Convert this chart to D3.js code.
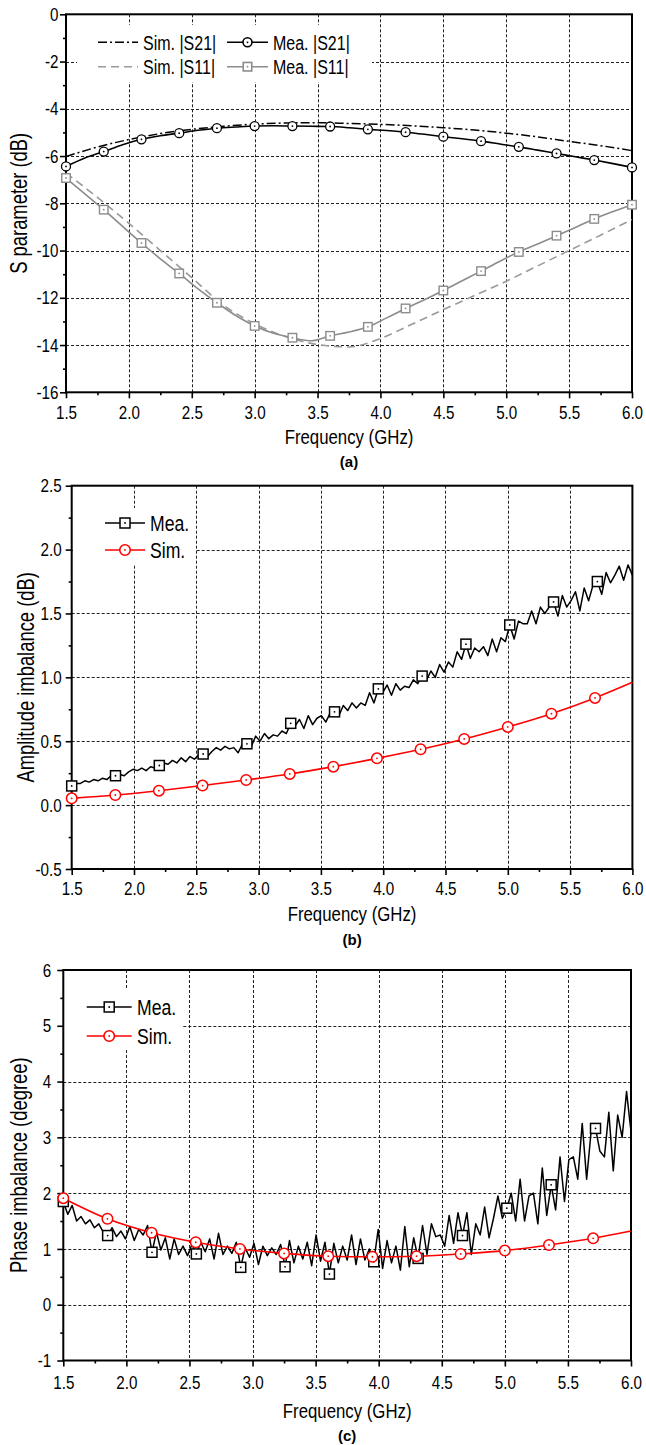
<!DOCTYPE html>
<html><head><meta charset="utf-8">
<script src="https://cdn.jsdelivr.net/npm/d3@7"></script>
<style>
html,body{margin:0;padding:0;background:#fff;}
svg{display:block;}
text{font-family:"Liberation Sans",Arial,sans-serif;fill:#000;}
</style></head><body>
<svg id="c" width="646" height="1445"></svg>
<script>
// ---------- shared axis ticks ----------
const xMajor = [1.5,2.0,2.5,3.0,3.5,4.0,4.5,5.0,5.5,6.0];
const xMinor = [1.75,2.25,2.75,3.25,3.75,4.25,4.75,5.25,5.75];
const yMajorA = [-16,-14,-12,-10,-8,-6,-4,-2,0];
const yMinorA = [-15,-13,-11,-9,-7,-5,-3,-1];
const yMajorB = [-0.5,0.0,0.5,1.0,1.5,2.0,2.5];
const yMinorB = [-0.25,0.25,0.75,1.25,1.75,2.25];
const yMajorC = [-1,0,1,2,3,4,5,6];
const yMinorC = [-0.5,0.5,1.5,2.5,3.5,4.5,5.5];

// ---------- panel (a): S parameters ----------
const freqMeaA = [1.5,1.65,1.8,1.95,2.1,2.25,2.4,2.55,2.7,2.85,3.0,3.15,3.3,3.45,3.6,3.75,3.9,4.05,4.2,4.35,4.5,4.65,4.8,4.95,5.1,5.25,5.4,5.55,5.7,5.85,6.0];
const meaS21 = [-6.44,-6.08,-5.81,-5.52,-5.29,-5.14,-5.03,-4.91,-4.82,-4.77,-4.73,-4.72,-4.73,-4.74,-4.75,-4.80,-4.87,-4.92,-4.99,-5.08,-5.18,-5.27,-5.37,-5.49,-5.61,-5.75,-5.89,-6.03,-6.17,-6.32,-6.48];
const meaS11 = [-6.93,-7.60,-8.27,-8.98,-9.68,-10.35,-10.97,-11.62,-12.21,-12.75,-13.19,-13.50,-13.69,-13.82,-13.61,-13.45,-13.23,-12.85,-12.45,-12.08,-11.69,-11.28,-10.87,-10.45,-10.06,-9.72,-9.37,-9.02,-8.66,-8.35,-8.06];
const freqSimA = [1.5,1.75,2.0,2.25,2.5,2.75,3.0,3.25,3.5,3.75,4.0,4.25,4.5,4.75,5.0,5.25,5.5,5.75,6.0];
const simS21 = [-6.02,-5.62,-5.30,-5.05,-4.87,-4.74,-4.65,-4.60,-4.59,-4.62,-4.66,-4.72,-4.80,-4.90,-5.03,-5.19,-5.38,-5.56,-5.77];
const simS11 = [-6.72,-7.75,-8.85,-10.0,-11.15,-12.3,-13.1,-13.65,-13.98,-14.08,-13.72,-13.12,-12.5,-11.9,-11.3,-10.65,-10.0,-9.35,-8.69];

// ---------- panel (b)/(c): shared measured frequency grid (129 points) ----------
const freqMeaBC = d3.range(129).map(i => 1.5 + i * 4.5 / 128);
const meaAmp = [
 0.15,0.17,0.17,0.19,0.18,0.20,0.19,0.21,0.20,0.23,
 0.23,0.24,0.23,0.26,0.28,0.27,0.29,0.27,0.30,0.29,
 0.31,0.33,0.32,0.35,0.33,0.37,0.34,0.38,0.36,0.39,
 0.40,0.38,0.42,0.45,0.43,0.46,0.44,0.45,0.41,0.48,
 0.48,0.46,0.54,0.50,0.56,0.52,0.55,0.54,0.58,0.56,
 0.64,0.62,0.67,0.60,0.70,0.63,0.68,0.70,0.65,0.72,
 0.73,0.70,0.78,0.74,0.80,0.76,0.80,0.78,0.88,0.80,
 0.91,0.88,0.94,0.86,0.95,0.90,0.93,0.92,0.98,0.95,
 1.01,0.98,1.05,1.00,1.10,1.04,1.12,1.08,1.20,1.14,
 1.26,1.15,1.23,1.20,1.24,1.17,1.30,1.20,1.31,1.28,
 1.41,1.30,1.44,1.42,1.42,1.52,1.42,1.55,1.50,1.55,
 1.59,1.48,1.64,1.55,1.60,1.67,1.52,1.70,1.60,1.72,
 1.75,1.65,1.82,1.74,1.80,1.87,1.76,1.88,1.80];
const meaPhase = [
 1.85,1.62,1.78,1.50,1.58,1.45,1.52,1.38,1.45,1.30,
 1.24,1.38,1.22,1.32,1.18,1.40,1.15,1.35,1.25,1.42,
 0.94,1.30,0.98,1.20,0.82,1.18,0.90,1.05,0.88,1.08,
 0.91,1.12,0.95,1.18,0.82,1.28,0.90,1.05,0.92,1.12,
 0.67,1.02,0.85,1.10,0.72,1.05,0.88,1.02,0.90,1.08,
 0.68,1.15,0.75,1.05,0.82,1.12,0.70,1.25,0.78,1.12,
 0.55,1.10,0.75,1.05,0.80,1.25,0.72,1.18,0.80,1.00,
 0.77,1.35,0.65,1.15,0.75,1.05,0.62,1.40,0.68,1.20,
 0.83,1.42,0.90,1.45,1.22,1.25,1.05,1.60,1.10,1.65,
 1.24,1.65,0.90,1.45,1.25,1.75,1.20,1.55,1.95,1.55,
 1.73,2.00,1.50,2.25,1.50,1.95,2.00,1.45,2.45,1.60,
 2.15,1.70,2.65,1.85,2.60,2.65,2.25,3.25,2.25,3.10,
 3.16,2.75,2.65,3.45,2.40,3.40,3.00,3.82,3.10];
const freqSimBC = [1.5,1.85,2.2,2.55,2.9,3.25,3.6,3.95,4.3,4.65,5.0,5.35,5.7,6.0];
const simAmp = [0.053,0.079,0.113,0.153,0.197,0.244,0.301,0.366,0.437,0.518,0.612,0.716,0.839,0.961];
const simPhase = [1.91,1.54,1.29,1.12,1.00,0.92,0.87,0.86,0.87,0.91,0.97,1.07,1.19,1.32];

// ---------- drawing ----------
const svg = d3.select("#c");
const GRAY = "#8c8c8c";
const RED = "#ff0000";
const NX = 0.8; // horizontal condensing (narrow face look)

function ntext(g, x, y, str, fs, anchor, rot) {
  return g.append("text")
    .attr("transform", `translate(${x},${y})` + (rot ? ` rotate(${rot})` : "") + ` scale(${NX},1)`)
    .attr("text-anchor", anchor || "start").style("font-size", fs + "px").text(str);
}

function panel(o) {
  const g = svg.append("g");
  const x = d3.scaleLinear().domain([1.5, 6.0]).range([o.x0, o.x1]);
  const y = d3.scaleLinear().domain([o.yMajor[0], o.yMajor[o.yMajor.length-1]]).range([o.y0, o.y1]);
  // grid
  g.append("g").selectAll("line").data(xMajor.slice(1,-1)).join("line")
    .attr("x1", d=>Math.round(x(d))+0.5).attr("x2", d=>Math.round(x(d))+0.5).attr("y1", o.y1).attr("y2", o.y0)
    .attr("stroke","#222").attr("stroke-width",1).attr("stroke-dasharray","3,2");
  g.append("g").selectAll("line").data(o.yMajor.slice(1,-1)).join("line")
    .attr("y1", d=>Math.round(y(d))+0.5).attr("y2", d=>Math.round(y(d))+0.5).attr("x1", o.x0).attr("x2", o.x1)
    .attr("stroke","#222").attr("stroke-width",1).attr("stroke-dasharray","3,2");
  // legend background
  g.append("rect").attr("x",o.leg.x).attr("y",o.leg.y).attr("width",o.leg.w).attr("height",o.leg.h).attr("fill","#fff");
  // axes
  const xa = g.append("g").attr("transform",`translate(0,${o.y0})`)
    .call(d3.axisBottom(x).tickValues(xMajor).tickSize(6).tickPadding(o.xPad).tickFormat(d=>d.toFixed(1)));
  const xm = g.append("g").attr("transform",`translate(0,${o.y0})`)
    .call(d3.axisBottom(x).tickValues(xMinor).tickSize(3).tickFormat(""));
  const ya = g.append("g").attr("transform",`translate(${o.x0},0)`)
    .call(d3.axisLeft(y).tickValues(o.yMajor).tickSize(6).tickPadding(o.yPad).tickFormat(o.yFmt));
  const ym = g.append("g").attr("transform",`translate(${o.x0},0)`)
    .call(d3.axisLeft(y).tickValues(o.yMinor).tickSize(3).tickFormat(""));
  [xa,xm,ya,ym].forEach(a => {
    a.select(".domain").remove();
    a.selectAll("line").attr("stroke-width",1.6);
    a.selectAll("text").style("font-size","19px").each(function(){
      const t = d3.select(this);
      const tx = +t.attr("x") || 0;
      t.attr("x", tx / NX).attr("transform", `scale(${NX},1)`);
    });
  });
  // frame
  g.append("rect").attr("x",o.x0).attr("y",o.y1).attr("width",o.x1-o.x0).attr("height",o.y0-o.y1)
    .attr("fill","none").attr("stroke","#000").attr("stroke-width",2);
  // titles
  ntext(g, (o.x0+o.x1)/2, o.xtY, "Frequency (GHz)", 21, "middle");
  ntext(g, o.ytX, (o.y0+o.y1)/2, o.yTitle, 23, "middle", -90);
  g.append("text").attr("x",(o.x0+o.x1)/2).attr("y",o.lblY).attr("text-anchor","middle")
    .style("font-weight","bold").style("font-size","15px").text(o.label);
  return {g, x, y};
}

function drawLine(g, x, y, fx, vy, color, width, dash, curve) {
  g.append("path").datum(fx.map((f,i)=>[f, vy[i]]))
    .attr("d", d3.line().x(d=>x(d[0])).y(d=>y(d[1])).curve(curve || d3.curveLinear))
    .attr("fill","none").attr("stroke",color).attr("stroke-width",width)
    .attr("stroke-dasharray", dash || null).attr("stroke-linejoin","round");
}
function marker(g, cx, cy, shape, color, size, sw) {
  if (shape === "circle") {
    g.append("circle").attr("cx",cx).attr("cy",cy).attr("r",size/2)
      .attr("fill","#fff").attr("stroke",color).attr("stroke-width",sw);
  } else {
    g.append("rect").attr("x",cx-size/2).attr("y",cy-size/2).attr("width",size).attr("height",size)
      .attr("fill","#fff").attr("stroke",color).attr("stroke-width",sw);
  }
  g.append("circle").attr("cx",cx).attr("cy",cy).attr("r",0.9).attr("fill",color);
}
function drawMarkers(g, x, y, fx, vy, step, count, shape, color, size, sw) {
  fx.forEach((f,i) => {
    if (i % step === 0 && i/step < count) marker(g, x(f), y(vy[i]), shape, color, size, sw);
  });
}
function legendItem(g, lx0, lx1, ly, textX, label, color, width, dash, shape, size, fs) {
  g.append("line").attr("x1",lx0).attr("x2",lx1).attr("y1",ly).attr("y2",ly)
    .attr("stroke",color).attr("stroke-width",width).attr("stroke-dasharray",dash||null);
  if (shape) marker(g, (lx0+lx1)/2, ly, shape, color, size, width);
  ntext(g, textX, ly + fs*0.36, label, fs, "start");
}

// ----- (a) -----
{
  const {g,x,y} = panel({x0:66,x1:632,y0:392.3,y1:14.3,yMajor:yMajorA,yMinor:yMinorA,
    yFmt:d=>String(d), xPad:7, yPad:1.5, xtY:444, ytX:27, lblY:467,
    yTitle:"S parameter (dB)", label:"(a)", leg:{x:77,y:25,w:295,h:57}});
  drawLine(g,x,y,freqSimA,simS21,"#000",1.5,"9,3,2,3",d3.curveMonotoneX);
  drawLine(g,x,y,freqSimA,simS11,"#9a9a9a",1.6,"8,5",d3.curveMonotoneX);
  drawLine(g,x,y,freqMeaA,meaS21,"#000",1.6,null,d3.curveMonotoneX);
  drawLine(g,x,y,freqMeaA,meaS11,GRAY,1.6,null,d3.curveMonotoneX);
  drawMarkers(g,x,y,freqMeaA,meaS21,2,16,"circle","#000",9,1.3);
  drawMarkers(g,x,y,freqMeaA,meaS11,2,16,"square",GRAY,8.5,1.4);
  legendItem(g,98,138,42.3,143,"Sim. |S21|","#000",1.5,"9,3,2,3",null,0,20);
  legendItem(g,227,268,42.3,273,"Mea. |S21|","#000",1.6,null,"circle",9,20);
  legendItem(g,98,138,66.7,143,"Sim. |S11|","#9a9a9a",1.6,"8,5",null,0,20);
  legendItem(g,227,268,66.7,273,"Mea. |S11|",GRAY,1.6,null,"square",8.5,20);
}
// ----- (b) -----
{
  const {g,x,y} = panel({x0:71.7,x1:632.4,y0:869,y1:485.7,yMajor:yMajorB,yMinor:yMinorB,
    yFmt:d=>d.toFixed(1), xPad:7, yPad:4, xtY:920.5, ytX:34, lblY:945,
    yTitle:"Amplitude imbalance (dB)", label:"(b)", leg:{x:73,y:508,w:122,h:57}});
  drawLine(g,x,y,freqMeaBC,meaAmp,"#000",1.5);
  drawLine(g,x,y,freqSimBC,simAmp,RED,1.6,null,d3.curveMonotoneX);
  drawMarkers(g,x,y,freqMeaBC,meaAmp,10,13,"square","#000",10,1.5);
  drawMarkers(g,x,y,freqSimBC,simAmp,1,13,"circle",RED,10.5,1.5);
  legendItem(g,105,145,523,150,"Mea.","#000",1.5,null,"square",10,22);
  legendItem(g,105,145,550,150,"Sim.",RED,1.6,null,"circle",10.5,22);
}
// ----- (c) -----
{
  const {g,x,y} = panel({x0:63.3,x1:631,y0:1360.5,y1:970,yMajor:yMajorC,yMinor:yMinorC,
    yFmt:d=>String(d), xPad:9, yPad:6, xtY:1417.5, ytX:27, lblY:1441,
    yTitle:"Phase imbalance (degree)", label:"(c)", leg:{x:64,y:988,w:119,h:62}});
  drawLine(g,x,y,freqMeaBC,meaPhase,"#000",1.5);
  drawLine(g,x,y,freqSimBC,simPhase,RED,1.6,null,d3.curveMonotoneX);
  drawMarkers(g,x,y,freqMeaBC,meaPhase,10,13,"square","#000",10,1.5);
  drawMarkers(g,x,y,freqSimBC,simPhase,1,13,"circle",RED,10.5,1.5);
  legendItem(g,86.7,131.7,1007,137,"Mea.","#000",1.5,null,"square",10,22);
  legendItem(g,86.7,131.7,1036,137,"Sim.",RED,1.6,null,"circle",10.5,22);
}
</script>
</body></html>
